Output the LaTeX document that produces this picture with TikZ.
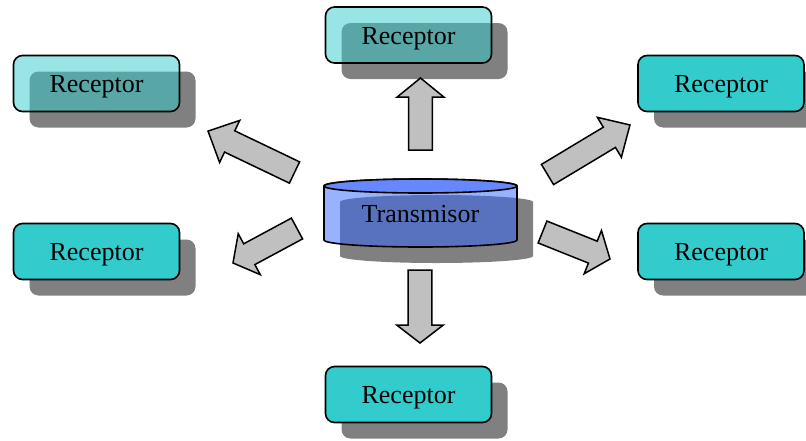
\documentclass[tikz,border=0pt]{standalone}
\usepackage{fontspec}
\setmainfont{Liberation Serif}
\usetikzlibrary{shadows}

\definecolor{recfill}{HTML}{33CCCC}
\definecolor{shadegray}{HTML}{808080}
\definecolor{arrowgray}{HTML}{C0C0C0}
\definecolor{txblue}{HTML}{3366FF}
\definecolor{txtop}{HTML}{6688FF}

\tikzset{
  labelfont/.style={font=\fontsize{26}{30}\selectfont, text height=18pt, text depth=0pt},
  receptor/.style={draw=black, line width=1.6pt, rounded corners=9pt, fill=recfill,
    minimum width=166pt, minimum height=56pt, inner sep=0pt, labelfont,
    drop shadow={shadow xshift=16pt, shadow yshift=-16pt, fill=shadegray, opacity=1}},
  faded/.style={fill opacity=0.5, text opacity=1},
  blockarrowstyle/.style={draw=black, line width=1.5pt, fill=arrowgray, line join=miter},
  cylline/.style={draw=black, line width=1.6pt},
}

% block arrow: tail centre (#1,#2), direction #3, total length #4, head length #5
\newcommand\blockarrow[5]{%
  \draw[blockarrowstyle, shift={(#1,#2)}, rotate=#3]
    (0,-11.8) -- ({#4-#5},-11.8) -- ({#4-#5},-23.3) -- (#4,0)
    -- ({#4-#5},23.3) -- ({#4-#5},11.8) -- (0,11.8) -- cycle;}

\begin{document}
\begin{tikzpicture}[x=1pt, y=1pt]
  \useasboundingbox (0,0) rectangle (806,-440);

  % transmitter cylinder: shadow, body, top end
  \fill[shadegray] (340,-202) -- (340,-256)
    arc[start angle=180, end angle=360, x radius=96.5pt, y radius=7pt]
    -- (533,-202)
    arc[start angle=0, end angle=180, x radius=96.5pt, y radius=7pt] -- cycle;
  \path[cylline, fill=txblue, fill opacity=0.5] (324,-186) -- (324,-240)
    arc[start angle=180, end angle=360, x radius=96.5pt, y radius=7pt]
    -- (517,-186)
    arc[start angle=0, end angle=180, x radius=96.5pt, y radius=7pt] -- cycle;
  \path[cylline, fill=txtop] (420.5,-186) ellipse [x radius=96.5pt, y radius=7pt];
  \node[labelfont] (tx) at (420.5,-213) {Transmisor};

  % receivers
  \node[receptor, faded] (r1) at (96.5,-83.5) {Receptor};
  \node[receptor, faded] (r2) at (408.5,-35) {Receptor};
  \node[receptor] (r3) at (721,-83.5) {Receptor};
  \node[receptor] (r4) at (96.5,-251.5) {Receptor};
  \node[receptor] (r5) at (721,-251.5) {Receptor};
  \node[receptor] (r6) at (408.5,-394.5) {Receptor};

  % signal arrows
  \blockarrow{420.5}{-150}{90}{72}{19}
  \blockarrow{420}{-270}{-90}{73}{18}
  \blockarrow{294.5}{-172.5}{154.4}{95.9}{24}
  \blockarrow{297}{-228.5}{208.3}{72.7}{18.5}
  \blockarrow{547.5}{-174.5}{31}{96.2}{24}
  \blockarrow{542.5}{-232}{-21.8}{72.7}{18.5}
\end{tikzpicture}
\end{document}
